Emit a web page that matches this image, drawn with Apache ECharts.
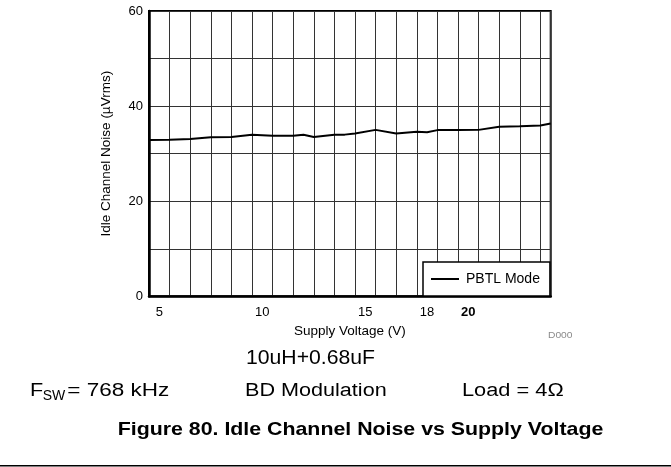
<!DOCTYPE html>
<html>
<head>
<meta charset="utf-8">
<script src="https://cdn.jsdelivr.net/npm/echarts@6/dist/echarts.min.js"></script>
<style>
html,body{margin:0;padding:0;background:#fff;}
#chart{width:671px;height:467px;}
</style>
</head>
<body>
<div id="chart"></div>
<script>
// Data
const voltage = [4.5, 5.5, 6.5, 7.5, 8.5, 9.5, 10.5, 11.5, 12, 12.5, 13.5, 14, 14.5, 15.5, 16.5, 17.5, 18, 18.5, 19.5, 20.5, 21.5, 22.5, 23.5, 24];
const noise = [32.87, 32.93, 33.08, 33.44, 33.5, 33.99, 33.78, 33.78, 33.99, 33.5, 33.97, 34.0, 34.25, 35.0, 34.25, 34.6, 34.5, 34.95, 34.95, 35.0, 35.65, 35.75, 35.9, 36.35];
const xTickLabels = [5, 10, 15, 18, 20];
const yTickLabels = [0, 20, 40, 60];
const seriesName = 'PBTL Mode';

const FONT = "'Liberation Sans', Arial, Helvetica, sans-serif";
const chart = echarts.init(document.getElementById('chart'), null, {renderer: 'canvas'});

function txt(text, x, y, size, sx, opts) {
  opts = opts || {};
  return {
    type: 'text', x: x, y: y, scaleX: sx, scaleY: 1, silent: true,
    style: {
      text: text, fontSize: size, fontFamily: FONT,
      fontWeight: opts.bold ? 'bold' : 'normal',
      fill: opts.color || '#000', textAlign: 'left', textVerticalAlign: 'middle'
    }
  };
}

const option = {
  animation: false,
  backgroundColor: '#fff',
  grid: {
    left: 149, top: 11, width: 401.7, height: 285.3,
    show: true, borderColor: '#000', borderWidth: 2, backgroundColor: 'transparent'
  },
  legend: {
    data: [{name: seriesName, icon: 'rect'}],
    left: 423, top: 262,
    padding: [10, 10, 10, 8],
    itemWidth: 28, itemHeight: 2,
    itemStyle: {color: '#000', borderWidth: 0},
    backgroundColor: '#fff', borderColor: '#000', borderWidth: 1.5, borderRadius: 0,
    textStyle: {fontSize: 14, color: '#000', fontFamily: FONT, padding: [0, 0, 0, 2], lineHeight: 14}
  },
  xAxis: {
    type: 'value', min: 4.5, max: 24, interval: 1,
    name: 'Supply Voltage (V)', nameLocation: 'middle', nameGap: 27,
    nameTextStyle: {fontSize: 13.5, color: '#000', fontFamily: FONT},
    axisLine: {show: true, lineStyle: {color: '#000', width: 2.5}},
    axisTick: {show: false},
    splitLine: {show: true, lineStyle: {color: '#333', width: 1}},
    axisLabel: {
      customValues: xTickLabels,
      margin: 10, fontSize: 13, color: '#000', fontFamily: FONT,
      formatter: function (v) { return v === 20 ? '{b|20}' : String(v); },
      rich: {b: {fontWeight: 'bold', fontSize: 13, color: '#000', fontFamily: FONT}}
    }
  },
  yAxis: {
    type: 'value', min: 0, max: 60, interval: 10,
    name: 'Idle Channel Noise (µVrms)', nameLocation: 'middle', nameGap: 36, nameRotate: 90,
    nameTextStyle: {fontSize: 13.5, color: '#000', fontFamily: FONT},
    axisLine: {show: true, lineStyle: {color: '#000', width: 2.5}},
    axisTick: {show: false},
    splitLine: {show: true, lineStyle: {color: '#333', width: 1}},
    axisLabel: {
      customValues: yTickLabels,
      margin: 6, fontSize: 13, color: '#000', fontFamily: FONT
    }
  },
  series: [{
    name: seriesName, type: 'line',
    data: voltage.map(function (v, i) { return [v, noise[i]]; }),
    symbol: 'none', showSymbol: false,
    lineStyle: {color: '#000', width: 2},
    itemStyle: {color: '#000'},
    z: 3
  }],
  graphic: [
    txt('D000', 548, 335.8, 9.5, 1.08, {color: '#8a8a8a'}),
    txt('10uH+0.68uF', 246, 358.9, 20, 1.06),
    txt('F', 30, 391.3, 18, 1.2),
    txt('SW', 42.7, 396.5, 14, 1.0),
    txt('= 768 kHz', 67.3, 391.3, 18, 1.25),
    txt('BD Modulation', 245, 391.3, 18, 1.2),
    txt('Load = 4Ω', 462, 391.3, 18, 1.21),
    txt('Figure 80. Idle Channel Noise vs Supply Voltage', 117.7, 430, 18.5, 1.153, {bold: true}),
    {
      type: 'line', silent: true,
      shape: {x1: 0, y1: 465.7, x2: 671, y2: 465.7},
      style: {stroke: '#000', lineWidth: 1.5}
    }
  ]
};
chart.setOption(option);
</script>
</body>
</html>
